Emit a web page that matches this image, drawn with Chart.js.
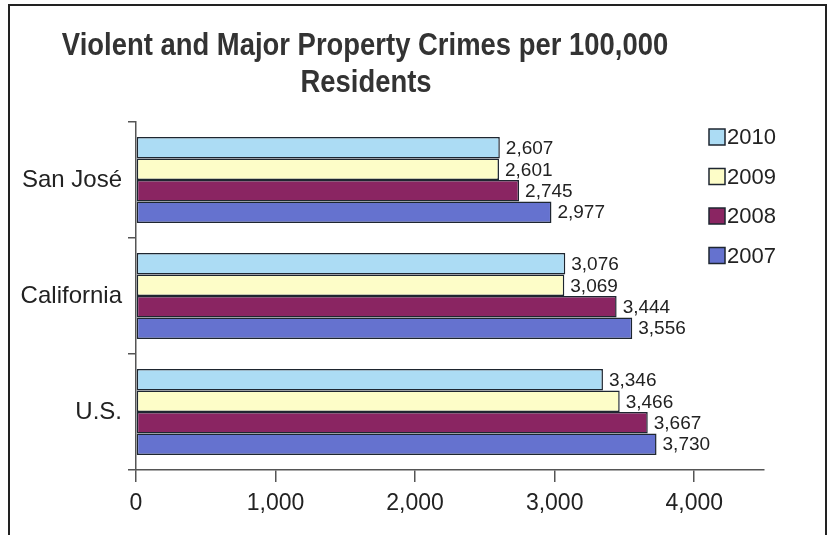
<!DOCTYPE html>
<html>
<head>
<meta charset="utf-8">
<script src="https://cdn.jsdelivr.net/npm/chart.js@4"></script>
<style>
  body { margin: 0; background: #ffffff; }
  canvas { display: block; }
</style>
</head>
<body>
<canvas id="crimeChart" width="830" height="535"></canvas>
<script>
// data
const places = ['San José', 'California', 'U.S.'];
const years = ['2010', '2009', '2008', '2007'];
const rates2010 = [2607, 3076, 3346];
const rates2009 = [2601, 3069, 3466];
const rates2008 = [2745, 3444, 3667];
const rates2007 = [2977, 3556, 3730];
const xTicks = [0, 1000, 2000, 3000, 4000];
const titleLines = ['Violent and Major Property Crimes per 100,000', 'Residents'];

const barColors = ['#acdcf4', '#fdfdc8', '#8a2562', '#6572cf'];
const edgeColor = '#1e2630';
const regular = '"Liberation Sans", Arial, sans-serif';

const fmt = v => v.toLocaleString('en-US');

// title, legend, value labels and frame
const extras = {
    id: 'extras',
    afterDatasetsDraw(chart) {
        const ctx = chart.ctx;
        ctx.save();
        ctx.font = '19px ' + regular;
        ctx.fillStyle = '#222';
        ctx.textAlign = 'left';
        ctx.textBaseline = 'middle';
        chart.data.datasets.forEach((ds, i) => {
            chart.getDatasetMeta(i).data.forEach((bar, j) => {
                ctx.fillText(fmt(ds.data[j]), bar.x + 6, bar.y + 1);
            });
        });
        ctx.restore();
    },
    afterDraw(chart) {
        const ctx = chart.ctx;
        ctx.save();
        // title, squeezed a bit like the narrow font of the original
        ctx.fillStyle = '#333';
        ctx.font = 'bold 31px ' + regular;
        ctx.textAlign = 'center';
        ctx.textBaseline = 'middle';
        [[365, 46], [366, 83]].forEach(([x, y], k) => {
            ctx.save();
            ctx.translate(x, y);
            ctx.scale(0.885, 1);
            ctx.fillText(titleLines[k], 0, 0);
            ctx.restore();
        });

        // legend
        ctx.font = '22px ' + regular;
        ctx.textAlign = 'left';
        chart.data.datasets.forEach((ds, i) => {
            const y = 137 + i * 39.5;
            ctx.fillStyle = ds.backgroundColor;
            ctx.fillRect(709, y - 8, 16, 16);
            ctx.strokeStyle = edgeColor;
            ctx.lineWidth = 1.5;
            ctx.strokeRect(709, y - 8, 16, 16);
            ctx.fillStyle = '#222';
            ctx.fillText(ds.label, 727, y + 1);
        });

        // outer frame
        ctx.strokeStyle = '#222';
        ctx.lineWidth = 2;
        ctx.strokeRect(9, 5, 817, 560);
        ctx.restore();
    }
};

const allRates = [rates2010, rates2009, rates2008, rates2007];

new Chart(document.getElementById('crimeChart'), {
    type: 'bar',
    data: {
        labels: places,
        datasets: years.map((yr, i) => ({
            label: yr,
            data: allRates[i],
            backgroundColor: barColors[i],
            borderColor: edgeColor,
            borderWidth: 1.5,
            borderSkipped: false,
            categoryPercentage: 0.74,
            barPercentage: 1.0
        }))
    },
    options: {
        indexAxis: 'y',
        responsive: false,
        animation: false,
        devicePixelRatio: 1,
        layout: { padding: { top: 122, right: 66, bottom: 0, left: 0 } },
        plugins: {
            legend: { display: false },
            title: { display: false },
            tooltip: { enabled: false }
        },
        scales: {
            x: {
                min: 0,
                max: 4500,
                ticks: {
                    stepSize: 1000,
                    padding: 8,
                    color: '#222',
                    font: { family: regular, size: 23 },
                    callback: v => fmt(v)
                },
                afterBuildTicks: scale => {
                    scale.ticks = xTicks.map(v => ({ value: v }));
                },
                afterFit: scale => { scale.height = 65; },
                grid: { drawOnChartArea: false, tickLength: 12, color: '#555', lineWidth: 1.5 },
                border: { color: '#555', width: 1.5 }
            },
            y: {
                ticks: {
                    padding: 6,
                    color: '#222',
                    font: { family: regular, size: 24 }
                },
                afterFit: scale => { scale.width = 136; },
                grid: { offset: true, drawOnChartArea: false, tickLength: 8, color: '#555', lineWidth: 1.5 },
                border: { color: '#555', width: 1.5 }
            }
        }
    },
    plugins: [extras]
});
</script>
</body>
</html>
